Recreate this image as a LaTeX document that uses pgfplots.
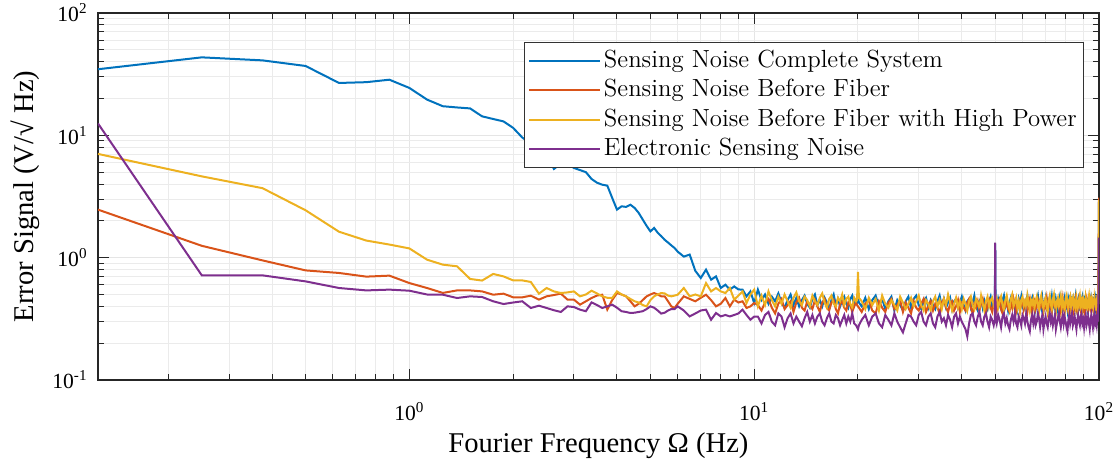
\documentclass[border=0pt]{standalone}
\usepackage{fontspec}
\newfontfamily\libserif{Liberation Serif}
\usepackage{pgfplots}
\usepackage{pgfplotstable}
\pgfplotsset{compat=1.18}

\definecolor{mblue}{rgb}{0,0.447,0.741}
\definecolor{morange}{rgb}{0.85,0.325,0.098}
\definecolor{myellow}{rgb}{0.929,0.694,0.125}
\definecolor{mpurple}{rgb}{0.494,0.184,0.556}

% f: Fourier frequency (Hz); B: complete system; O: before fiber;
% Y: before fiber, high power; P: electronic sensing noise
\pgfplotstableread{
f B O Y P
0.125 34.7 2.47 7.05 12.5
0.25 43.4 1.25 4.62 0.717
0.375 41.0 0.95 3.70 0.717
0.5 36.9 0.787 2.44 0.64
0.625 26.8 0.75 1.63 0.565
0.75 27.2 0.70 1.38 0.54
0.875 28.5 0.713 1.28 0.548
1.0 24.4 0.62 1.19 0.537
1.125 19.6 0.565 0.963 0.50
1.25 17.3 0.515 0.877 0.498
1.375 16.9 0.54 0.85 0.468
1.5 16.6 0.54 0.67 0.483
1.625 14.3 0.53 0.65 0.477
1.75 13.6 0.498 0.736 0.44
1.875 13.0 0.508 0.703 0.418
2.0 11.5 0.474 0.652 0.43
2.125 9.6 0.474 0.652 0.44
2.25 8.55 0.489 0.633 0.388
2.375 7.4 0.454 0.508 0.405
2.5 6.95 0.483 0.565 0.388
2.625 5.31 0.495 0.53 0.372
2.75 5.87 0.508 0.514 0.36
2.875 5.87 0.454 0.52 0.40
3.0 5.41 0.454 0.53 0.395
3.125 5.2 0.413 0.483 0.376
3.25 5.0 0.44 0.50 0.365
3.375 4.4 0.468 0.537 0.431
3.5 4.1 0.49 0.51 0.41
3.625 3.95 0.498 0.483 0.388
3.75 3.88 0.376 0.47 0.40
3.875 3.08 0.45 0.468 0.413
4.0 2.47 0.514 0.53 0.39
4.125 2.63 0.50 0.50 0.365
4.25 2.60 0.483 0.483 0.36
4.375 2.71 0.44 0.46 0.353
4.5 2.55 0.40 0.44 0.355
4.625 2.32 0.42 0.43 0.36
4.75 2.05 0.45 0.41 0.365
4.875 1.82 0.483 0.40 0.38
5.0 1.64 0.50 0.45 0.40
5.125 1.75 0.514 0.483 0.39
5.25 1.60 0.50 0.50 0.37
5.375 1.50 0.483 0.514 0.349
5.5 1.40 0.483 0.51 0.355
5.625 1.33 0.44 0.49 0.37
5.75 1.26 0.40 0.483 0.38
5.875 1.20 0.388 0.49 0.38
6.0 1.12 0.42 0.498 0.40
6.25 1.02 0.483 0.565 0.37
6.5 1.06 0.46 0.483 0.331
6.75 0.78 0.44 0.50 0.35
7.0 0.682 0.47 0.483 0.37
7.25 0.798 0.498 0.62 0.376
7.5 0.661 0.45 0.53 0.311
7.75 0.703 0.40 0.565 0.353
8.0 0.565 0.42 0.53 0.331
8.25 0.601 0.468 0.514 0.34
8.5 0.548 0.40 0.565 0.331
8.75 0.582 0.454 0.454 0.34
9.0 0.55 0.43 0.49 0.35
9.25 0.548 0.44 0.53 0.376
9.5 0.483 0.388 0.426 0.34
9.75 0.53 0.40 0.50 0.311
10.0 0.426 0.426 0.548 0.33
10.25 0.548 0.41 0.40 0.33
10.5 0.45 0.37 0.49 0.29
10.75 0.50 0.43 0.41 0.34
11.0 0.42 0.46 0.53 0.36
11.25 0.48 0.39 0.45 0.30
11.5 0.44 0.35 0.40 0.28
11.75 0.51 0.42 0.48 0.35
12.0 0.43 0.46 0.42 0.33
12.25 0.39 0.38 0.50 0.27
12.5 0.45 0.41 0.44 0.32
12.75 0.50 0.44 0.39 0.35
13.0 0.41 0.36 0.47 0.29
13.25 0.47 0.43 0.52 0.33
13.5 0.40 0.47 0.44 0.30
13.75 0.45 0.39 0.41 0.275
14.0 0.49 0.37 0.48 0.32
14.25 0.42 0.44 0.45 0.36
14.5 0.39 0.41 0.40 0.30
14.75 0.46 0.38 0.49 0.34
15.0 0.50 0.45 0.44 0.29
15.25 0.41 0.40 0.41 0.33
15.5 0.45 0.36 0.47 0.35
15.75 0.40 0.43 0.51 0.30
16.0 0.47 0.46 0.43 0.28
16.25 0.43 0.39 0.39 0.32
16.5 0.38 0.37 0.46 0.35
16.75 0.45 0.43 0.49 0.30
17.0 0.50 0.45 0.42 0.29
17.25 0.41 0.38 0.40 0.34
17.5 0.46 0.35 0.47 0.32
17.75 0.40 0.42 0.44 0.28
18.0 0.45 0.44 0.50 0.31
18.25 0.48 0.39 0.41 0.34
18.5 0.42 0.37 0.46 0.29
18.75 0.39 0.43 0.48 0.33
19.0 0.46 0.41 0.42 0.30
19.25 0.49 0.36 0.39 0.35
19.5 0.41 0.40 0.47 0.29
19.75 0.45 0.43 0.44 0.28
19.875 0.43 0.41 0.45 0.27
20.0 0.46 0.40 0.764 0.26
20.125 0.43 0.39 0.47 0.28
20.5 0.40 0.36 0.44 0.31
21.0 0.47 0.42 0.38 0.34
21.5 0.38 0.45 0.47 0.28
22.0 0.45 0.37 0.41 0.33
22.5 0.49 0.35 0.46 0.35
23.0 0.40 0.44 0.37 0.29
23.5 0.46 0.39 0.49 0.27
24.0 0.38 0.36 0.42 0.34
24.5 0.44 0.43 0.39 0.31
25.0 0.48 0.46 0.45 0.28
25.5 0.37 0.38 0.41 0.35
26.0 0.45 0.41 0.37 0.30
26.5 0.41 0.45 0.48 0.27
27.0 0.37 0.36 0.43 0.245
27.5 0.44 0.43 0.38 0.29
28.0 0.48 0.39 0.42 0.34
28.5 0.39 0.35 0.47 0.33
29.0 0.46 0.44 0.40 0.30
29.5 0.49 0.39 0.44 0.28
30.0 0.41 0.37 0.49 0.34
30.5 0.38 0.42 0.41 0.36
31.0 0.44 0.46 0.37 0.30
31.5 0.47 0.36 0.45 0.28
32.0 0.39 0.40 0.42 0.33
32.5 0.45 0.44 0.37 0.35
33.0 0.41 0.37 0.44 0.29
33.5 0.38 0.42 0.48 0.27
34.0 0.44 0.39 0.40 0.33
34.5 0.49 0.35 0.45 0.36
35.0 0.40 0.43 0.38 0.30
35.5 0.46 0.46 0.46 0.32
36.0 0.39 0.39 0.41 0.28
36.5 0.43 0.36 0.50 0.34
37.0 0.47 0.42 0.43 0.31
37.5 0.38 0.44 0.37 0.27
38.0 0.44 0.37 0.42 0.33
38.5 0.46 0.40 0.47 0.35
39.0 0.39 0.45 0.39 0.29
39.5 0.43 0.36 0.44 0.33
40.0 0.48 0.42 0.38 0.30
40.5 0.41 0.39 0.46 0.28
41.0 0.37 0.37 0.42 0.26
41.5 0.44 0.43 0.37 0.227
42.0 0.46 0.46 0.44 0.29
42.5 0.39 0.39 0.48 0.34
43.0 0.43 0.35 0.41 0.35
43.5 0.49 0.42 0.38 0.30
44.0 0.40 0.39 0.46 0.28
44.5 0.37 0.44 0.43 0.33
45.0 0.44 0.37 0.39 0.36
45.5 0.47 0.42 0.49 0.30
46.0 0.39 0.46 0.42 0.28
46.5 0.45 0.39 0.37 0.33
47.0 0.41 0.35 0.44 0.35
47.5 0.38 0.42 0.48 0.30
48.0 0.44 0.45 0.40 0.27
48.5 0.48 0.39 0.45 0.33
49.0 0.40 0.36 0.47 0.31
49.5 0.43 0.42 0.41 0.28
49.875 0.45 0.40 0.44 0.31
50.0 1.30 0.42 0.45 1.33
50.125 0.43 0.41 0.42 0.32
50.5 0.39 0.37 0.46 0.29
51.0 0.46 0.43 0.39 0.34
51.5 0.41 0.46 0.44 0.31
52.0 0.38 0.38 0.48 0.27
52.5 0.45 0.35 0.41 0.33
53.0 0.49 0.42 0.37 0.35
53.5 0.40 0.40 0.45 0.29
54.0 0.44 0.45 0.49 0.32
54.5 0.37 0.38 0.42 0.28
55.0 0.43 0.36 0.38 0.26
55.5 0.47 0.43 0.46 0.31
56.0 0.41 0.39 0.50 0.34
56.5 0.45 0.46 0.40 0.30
57.0 0.39 0.41 0.43 0.35
57.5 0.44 0.36 0.47 0.29
58.0 0.38 0.40 0.39 0.27
58.5 0.46 0.44 0.44 0.33
59.0 0.42 0.37 0.37 0.31
59.5 0.48 0.42 0.45 0.28
60.0 0.40 0.45 0.48 0.34
60.5 0.43 0.38 0.41 0.32
61.0 0.39 0.43 0.44 0.29
61.5 0.45 0.40 0.38 0.35
62.0 0.49 0.36 0.49 0.30
62.5 0.41 0.42 0.43 0.27
63.0 0.38 0.46 0.37 0.25
63.5 0.44 0.39 0.45 0.31
64.0 0.47 0.35 0.42 0.34
64.5 0.40 0.43 0.46 0.29
65.0 0.43 0.45 0.39 0.33
65.5 0.38 0.38 0.44 0.28
66.0 0.45 0.41 0.48 0.30
66.5 0.49 0.44 0.41 0.35
67.0 0.41 0.37 0.37 0.32
67.5 0.44 0.40 0.45 0.27
68.0 0.39 0.45 0.49 0.31
68.5 0.46 0.39 0.42 0.34
69.0 0.37 0.36 0.38 0.26
69.5 0.43 0.43 0.44 0.30
70.0 0.47 0.40 0.47 0.33
70.5 0.40 0.46 0.40 0.29
71.0 0.44 0.37 0.36 0.27
71.5 0.38 0.42 0.45 0.32
72.0 0.45 0.44 0.49 0.35
72.5 0.41 0.38 0.42 0.30
73.0 0.48 0.36 0.38 0.33
73.5 0.40 0.43 0.46 0.28
74.0 0.44 0.46 0.50 0.31
74.5 0.39 0.40 0.41 0.34
75.0 0.46 0.37 0.37 0.26
75.5 0.42 0.43 0.44 0.29
76.0 0.37 0.45 0.47 0.32
76.5 0.44 0.39 0.40 0.35
77.0 0.48 0.35 0.43 0.30
77.5 0.41 0.42 0.48 0.27
78.0 0.45 0.40 0.39 0.31
78.5 0.39 0.46 0.45 0.34
79.0 0.43 0.38 0.41 0.29
79.5 0.47 0.36 0.37 0.33
80.0 0.40 0.43 0.46 0.30
80.5 0.44 0.45 0.49 0.27
81.0 0.38 0.39 0.42 0.25
81.5 0.46 0.36 0.38 0.31
82.0 0.42 0.42 0.45 0.34
82.5 0.49 0.46 0.48 0.29
83.0 0.40 0.38 0.40 0.32
83.5 0.44 0.41 0.44 0.35
84.0 0.38 0.44 0.37 0.28
84.5 0.45 0.37 0.46 0.30
85.0 0.41 0.40 0.43 0.33
85.5 0.47 0.45 0.39 0.29
86.0 0.39 0.39 0.47 0.26
86.5 0.43 0.36 0.42 0.31
87.0 0.46 0.42 0.37 0.34
87.5 0.40 0.46 0.45 0.30
88.0 0.44 0.40 0.49 0.28
88.5 0.37 0.37 0.41 0.33
89.0 0.45 0.43 0.44 0.35
89.5 0.48 0.45 0.39 0.29
90.0 0.41 0.38 0.46 0.31
90.5 0.44 0.41 0.43 0.27
91.0 0.38 0.36 0.38 0.32
91.5 0.46 0.43 0.47 0.34
92.0 0.43 0.46 0.42 0.28
92.5 0.39 0.39 0.37 0.30
93.0 0.47 0.37 0.45 0.33
93.5 0.41 0.42 0.49 0.29
94.0 0.44 0.45 0.41 0.26
94.5 0.38 0.39 0.44 0.31
95.0 0.46 0.36 0.38 0.34
95.5 0.42 0.43 0.46 0.30
96.0 0.48 0.40 0.43 0.27
96.5 0.40 0.46 0.39 0.32
97.0 0.44 0.38 0.47 0.35
97.5 0.39 0.41 0.42 0.29
98.0 0.46 0.44 0.37 0.31
98.5 0.42 0.37 0.45 0.28
99.0 0.45 0.40 0.48 0.33
99.5 0.41 0.43 0.42 0.30
100 2.9 3.1 2.95 1.46
}\noisedata

\begin{document}
\begin{tikzpicture}
\begin{axis}[
  scale only axis,
  width=500.5pt, height=183.5pt,
  xmode=log, ymode=log,
  xmin=0.125, xmax=100, ymin=0.1, ymax=100,
  xtick={1,10,100},
  xticklabels={10\textsuperscript{0},10\textsuperscript{1},10\textsuperscript{2}},
  ytick={0.1,1,10,100},
  yticklabels={10\textsuperscript{-1},10\textsuperscript{0},10\textsuperscript{1},10\textsuperscript{2}},
  minor xtick={0.2,0.3,0.4,0.5,0.6,0.7,0.8,0.9,2,3,4,5,6,7,8,9,20,30,40,50,60,70,80,90},
  minor ytick={0.2,0.3,0.4,0.5,0.6,0.7,0.8,0.9,2,3,4,5,6,7,8,9,20,30,40,50,60,70,80,90},
  grid=both,
  major grid style={line width=0.5pt, color=black!10},
  minor grid style={line width=0.5pt, color=black!8},
  tick align=inside,
  major tick length=5.3pt, minor tick length=3pt,
  every tick/.style={line width=0.5pt, black!85},
  axis line style={line width=0.6pt, black!85},
  ticklabel style={font=\libserif\fontsize{10.8}{13}\selectfont},
  xticklabel style={anchor=base, yshift=-20pt},
  yticklabel style={anchor=east, inner sep=0pt, xshift=-5pt},
  xlabel={Fourier Frequency Ω (Hz)},
  ylabel={Error Signal (V/√ Hz)},
  label style={font=\libserif\fontsize{14.3}{17}\selectfont},
  xlabel style={at={(axis description cs:0.5,-0.1989)}, anchor=base},
  ylabel style={at={(axis description cs:-0.0649,0.5)}, anchor=base},
  legend cell align=left,
  legend style={
    at={(axis description cs:0.985,0.921)}, anchor=north east,
    draw=black!80, line width=0.5pt, fill=white,
    font=\fontsize{12.4}{14}\selectfont,
    row sep=0pt, inner xsep=2pt, inner ysep=1.8pt,
    nodes={text height=9.2pt, text depth=2.7pt, inner sep=1.4pt},
  },
  legend image code/.code={\draw[#1] (0pt,0pt) -- (35.5pt,0pt);},
  every axis plot/.append style={line width=1pt},
]
\addplot[mblue] table[x=f, y=B] {\noisedata};
\addlegendentry{Sensing Noise Complete System}
\addplot[morange] table[x=f, y=O] {\noisedata};
\addlegendentry{Sensing Noise Before Fiber}
\addplot[myellow] table[x=f, y=Y] {\noisedata};
\addlegendentry{Sensing Noise Before Fiber with High Power}
\addplot[mpurple] table[x=f, y=P] {\noisedata};
\addlegendentry{Electronic Sensing Noise}
\end{axis}
\pgfresetboundingbox
\path (-49pt,-42.5pt) rectangle (509.5pt,190pt);
\end{tikzpicture}
\end{document}
